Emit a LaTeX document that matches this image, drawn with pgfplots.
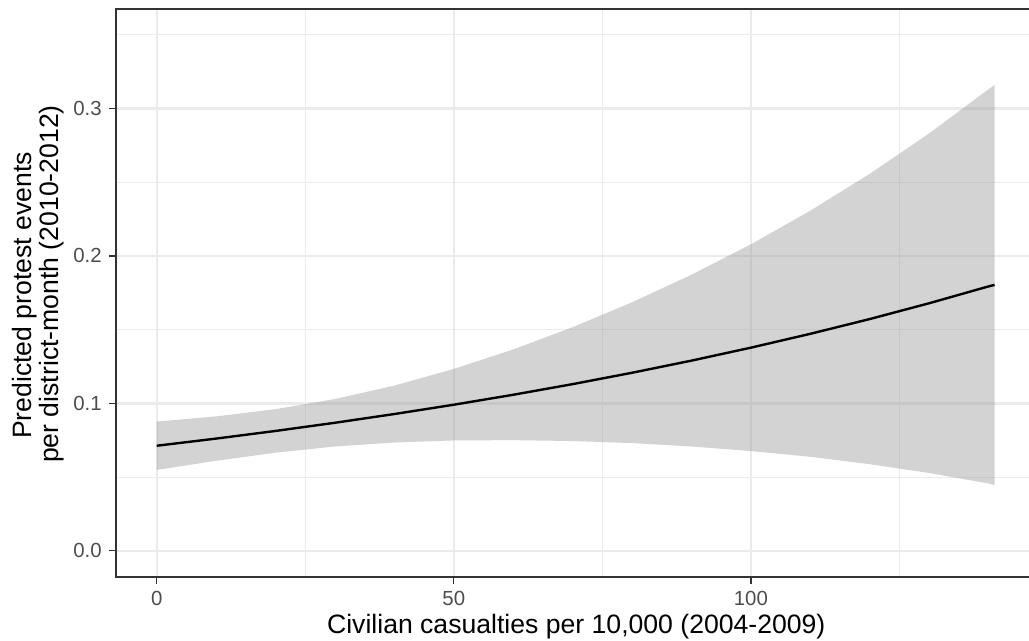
\documentclass[border=0pt]{standalone}
\usepackage{pgfplots}
\pgfplotsset{compat=1.18}
\usepackage{fontspec}
\setmainfont{Liberation Sans}
\usepgfplotslibrary{fillbetween}
\definecolor{gridc}{RGB}{235,235,235}
\definecolor{grey20}{RGB}{51,51,51}
\definecolor{grey30}{RGB}{77,77,77}
\definecolor{ribbonc}{RGB}{153,153,153}
\begin{document}
\begin{tikzpicture}
\begin{axis}[
  name=ax,
  at={(0,0)}, anchor=south west,
  scale only axis,
  width=456.65pt, height=283.85pt,
  xmin=-6.9, xmax=146.8,
  ymin=-0.0175, ymax=0.3675,
  xtick={0,50,100},
  ytick={0,0.1,0.2,0.3},
  yticklabels={0.0,0.1,0.2,0.3},
  minor xtick={25,75,125},
  minor ytick={0.05,0.15,0.25,0.35},
  grid=both,
  major grid style={gridc, line width=1.1pt},
  minor grid style={gridc, line width=0.6pt},
  minor tick length=0pt,
  major tick length=3.5pt,
  tick align=outside,
  xtick pos=bottom, ytick pos=left,
  tick style={grey20, line width=0.6pt},
  axis line style={draw=none},
  ticklabel style={font=\fontsize{10.2}{12}\selectfont, text=grey30},
  /pgf/number format/assume math mode=true,
  xlabel={Civilian casualties per 10,000 (2004-2009)},
  xlabel style={at={(axis description cs:0.5043,0)}, anchor=base, yshift=-28.65pt, font=\fontsize{13.3}{13.3}\selectfont},
  ylabel={Predicted protest events},
  ylabel style={at={(axis description cs:-0.0920,0.4953)}, rotate=0, anchor=base, font=\fontsize{13.3}{13.3}\selectfont},
  extra description/.code={
    \node[rotate=90, anchor=base, font=\fontsize{13.3}{13.3}\selectfont, inner sep=0pt]
      at (axis description cs:-0.0628,0.5156) {per district-month (2010-2012)};
  },
]
\addplot[draw=none, name path=up, forget plot] coordinates {
(0,0.0877) (10,0.0912) (20,0.0961) (30,0.1030) (40,0.1121) (50,0.1234)
(60,0.1366) (70,0.1517) (80,0.1686) (90,0.1873) (100,0.2079) (110,0.2307)
(120,0.2557) (130,0.2831) (140,0.3131) (141,0.3160)};
\addplot[draw=none, name path=lo, forget plot] coordinates {
(0,0.0549) (10,0.0611) (20,0.0666) (30,0.0708) (40,0.0735) (50,0.0749)
(60,0.0751) (70,0.0745) (80,0.0731) (90,0.0708) (100,0.0677) (110,0.0638)
(120,0.0588) (130,0.0528) (140,0.0457) (141,0.0446)};
\addplot[fill=ribbonc, fill opacity=0.43, draw=none] fill between[of=up and lo];
\addplot[black, line width=1.2pt] coordinates {
(0,0.07130) (10,0.07616) (20,0.08134) (30,0.08689) (40,0.09281) (50,0.09913)
(60,0.10588) (70,0.11309) (80,0.12080) (90,0.12903) (100,0.13782) (110,0.14721)
(120,0.15723) (130,0.16794) (140,0.17938) (141,0.18040)};
\end{axis}
\draw[grey20, line width=1pt] (ax.north east) -- (ax.north west) -- (ax.south west) -- (ax.south east);
\pgfresetboundingbox
\path[use as bounding box] (-57.85pt,-32.15pt) rectangle (456.65pt,288.35pt);
\end{tikzpicture}
\end{document}
